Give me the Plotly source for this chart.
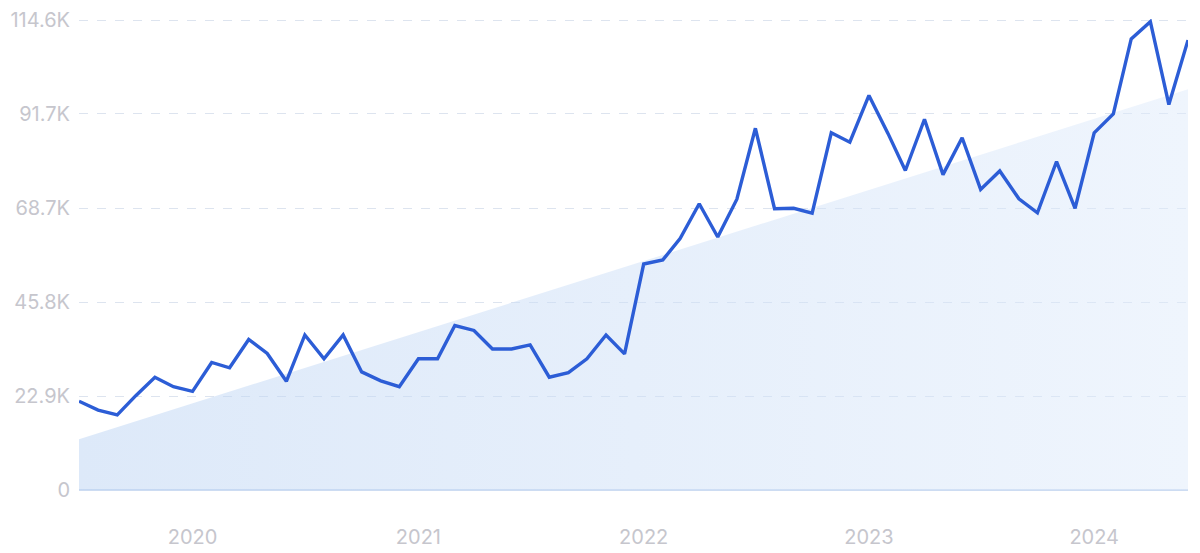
import pandas as pd
import plotly.graph_objects as go

# ---- data ----
dates = pd.date_range("2019-07-01", "2024-06-01", freq="MS")
values_k = [21.65, 19.5, 18.3, 23.0, 27.5, 25.2, 24.05, 31.1, 29.8, 36.7,
            33.3, 26.5, 37.8, 32.0, 37.8, 28.8, 26.6, 25.2, 32.0, 32.0,
            40.1, 38.9, 34.4, 34.4, 35.4, 27.5, 28.6, 32.0, 37.8, 33.2,
            55.1, 56.1, 61.3, 69.8, 61.7, 70.9, 88.2, 68.6, 68.7, 67.5,
            87.1, 84.8, 96.2, 86.9, 77.9, 90.4, 76.9, 85.9, 73.3, 77.8,
            71.0, 67.6, 80.1, 68.7, 87.1, 91.7, 110.0, 114.2, 94.0, 109.7]
values = [v * 1000 for v in values_k]

trend_dates = ["2019-07-01", "2024-06-01"]
trend_values = [12400, 97700]

y_tickvals = [0, 22900, 45800, 68700, 91700, 114600]
y_ticktext = ["0", "22.9K", "45.8K", "68.7K", "91.7K", "114.6K"]
x_tickvals = ["2020-01-01", "2021-01-01", "2022-01-01", "2023-01-01", "2024-01-01"]
x_ticktext = ["2020", "2021", "2022", "2023", "2024"]

fig = go.Figure()

fig.add_trace(go.Scatter(
    x=trend_dates, y=trend_values, mode="lines",
    line=dict(width=0, color="rgba(0,0,0,0)"),
    fill="tozeroy",
    fillgradient=dict(type="horizontal",
                      colorscale=[[0, "rgba(187,211,243,0.5)"],
                                  [1, "rgba(223,235,251,0.5)"]]),
    hoverinfo="skip", showlegend=False,
))

fig.add_trace(go.Scatter(
    x=dates, y=values, mode="lines",
    line=dict(width=3.4, color="#2c5dd6"),
    showlegend=False,
))

label_font = dict(family="Inter, Noto Sans, sans-serif", size=20, color="#c6c6cd")

fig.update_layout(
    width=1200, height=553,
    margin=dict(l=79, r=12, t=19, b=63, autoexpand=False),
    paper_bgcolor="white", plot_bgcolor="white",
    xaxis=dict(
        range=["2019-07-01", "2024-06-01"],
        tickvals=x_tickvals, ticktext=x_ticktext,
        showgrid=False, zeroline=False, showline=False, automargin=False,
        tickfont=label_font, ticks="", ticklabelstandoff=33,
    ),
    yaxis=dict(
        range=[0, 114850],
        tickvals=y_tickvals, ticktext=y_ticktext,
        showgrid=True, gridcolor="#dde4ef", griddash="dash", gridwidth=1,
        zeroline=True, zerolinecolor="#cddcf2", zerolinewidth=1.5,
        showline=False, ticks="", automargin=False,
        tickfont=label_font, ticklabelstandoff=8,
    ),
)

fig.write_html(
    "out.html",
    config={"displayModeBar": False},
    post_script="document.body.style.margin='0';document.body.style.overflow='hidden';",
)
